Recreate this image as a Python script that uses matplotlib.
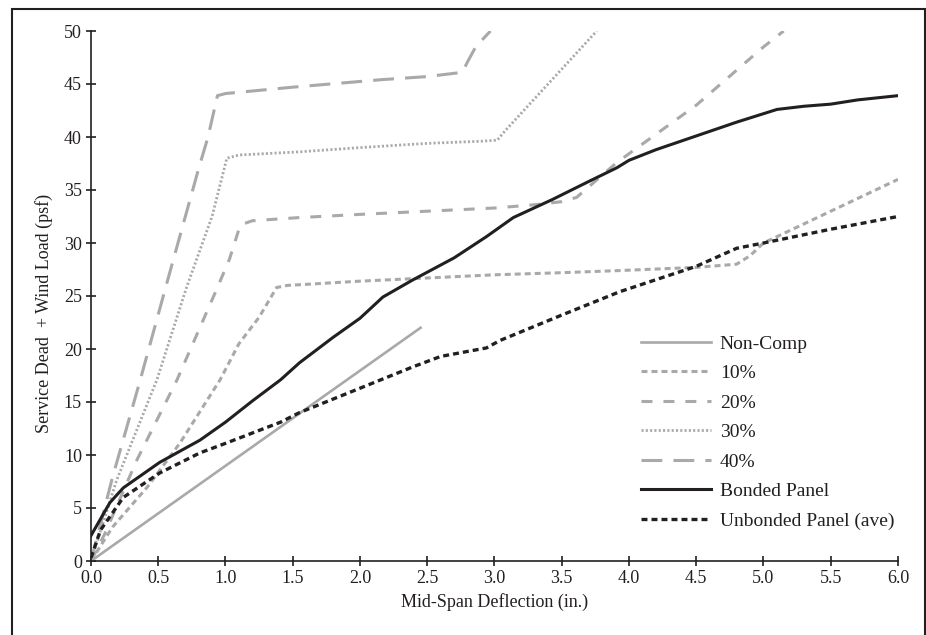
import matplotlib
matplotlib.use("Agg")
import matplotlib.pyplot as plt
from matplotlib.patches import Rectangle

# values
noncomp_x = [0.0, 2.45]
noncomp_y = [0.0, 22.0]

p10_x = [0.0, 0.16, 0.42, 0.66, 0.96, 1.1, 1.25, 1.38, 1.46, 1.6, 2.0, 2.5, 3.0, 3.5, 3.93, 4.5, 4.8, 4.9, 5.0, 5.5, 6.0]
p10_y = [0.0, 3.2, 7.0, 11.1, 17.1, 20.5, 23.0, 25.8, 26.0, 26.1, 26.4, 26.7, 27.0, 27.2, 27.4, 27.7, 28.0, 28.8, 30.0, 33.0, 36.0]

p20_x = [0.0, 0.1, 0.34, 0.64, 0.94, 1.03, 1.08, 1.11, 1.2, 1.55, 2.0, 2.5, 3.0, 3.29, 3.5, 3.61, 3.91, 4.5, 5.0, 5.15]
p20_y = [0.0, 2.5, 9.5, 17.1, 25.8, 28.5, 30.5, 31.7, 32.1, 32.4, 32.7, 33.0, 33.3, 33.6, 33.9, 34.3, 37.6, 43.0, 48.5, 50.0]

p30_x = [0.0, 0.19, 0.49, 0.71, 0.9, 0.97, 1.01, 1.1, 1.55, 2.0, 2.5, 2.9, 3.02, 3.08, 3.76]
p30_y = [0.0, 7.6, 17.1, 25.8, 32.5, 36.0, 38.0, 38.3, 38.6, 39.0, 39.4, 39.6, 39.7, 40.6, 50.0]

p40_x = [0.0, 0.16, 0.36, 0.57, 0.8, 0.87, 0.94, 1.0, 1.5, 2.15, 2.5, 2.76, 2.8, 2.86, 2.97]
p40_y = [0.0, 7.9, 16.8, 26.5, 37.0, 40.0, 43.9, 44.1, 44.7, 45.4, 45.7, 46.1, 47.1, 48.5, 50.0]

bonded_x = [0.0, 0.14, 0.24, 0.51, 0.81, 1.0, 1.2, 1.41, 1.55, 1.8, 2.0, 2.17, 2.39, 2.7, 2.94, 3.14, 3.43, 3.7, 3.91, 4.0, 4.2, 4.5, 4.8, 5.0, 5.1, 5.3, 5.5, 5.7, 6.0]
bonded_y = [2.4, 5.5, 6.9, 9.3, 11.4, 13.1, 15.1, 17.1, 18.7, 21.1, 22.9, 24.9, 26.5, 28.6, 30.6, 32.4, 34.1, 35.8, 37.1, 37.8, 38.8, 40.1, 41.4, 42.2, 42.6, 42.9, 43.1, 43.5, 43.9]

unbonded_x = [0.0, 0.07, 0.24, 0.51, 0.81, 1.0, 1.41, 1.55, 2.0, 2.39, 2.6, 2.94, 3.04, 3.5, 3.93, 4.5, 4.8, 5.0, 5.5, 6.0]
unbonded_y = [0.3, 2.9, 6.0, 8.3, 10.2, 11.1, 13.1, 14.0, 16.3, 18.3, 19.3, 20.1, 20.8, 23.2, 25.4, 27.8, 29.5, 30.0, 31.3, 32.5]

x_ticks = [0.0, 0.5, 1.0, 1.5, 2.0, 2.5, 3.0, 3.5, 4.0, 4.5, 5.0, 5.5, 6.0]
y_ticks = [0, 5, 10, 15, 20, 25, 30, 35, 40, 45, 50]

plt.rcParams["font.family"] = ["Liberation Serif", "DejaVu Serif"]
plt.rcParams["lines.scale_dashes"] = False

gray = "#a9a9ab"
dark = "#231f20"

fig = plt.figure(figsize=(9.26, 6.35), dpi=100)
ax = fig.add_axes([91 / 926, 74 / 635, 807 / 926, 530 / 635])

ax.plot(noncomp_x, noncomp_y, color=gray, lw=1.9, label="Non-Comp")
ax.plot(p10_x, p10_y, color=gray, lw=2.2, dashes=(4.3, 2.9), label="10%")
ax.plot(p20_x, p20_y, color=gray, lw=2.2, dashes=(7.9, 7.9), label="20%")
ax.plot(p30_x, p30_y, color=gray, lw=2.0, dashes=(1.5, 1.6), label="30%")
ax.plot(p40_x, p40_y, color=gray, lw=2.2, dashes=(15, 8), label="40%")
ax.plot(bonded_x, bonded_y, color=dark, lw=2.2, label="Bonded Panel")
ax.plot(unbonded_x, unbonded_y, color=dark, lw=2.4, dashes=(4.3, 2.9), label="Unbonded Panel (ave)")

ax.set_xlim(0, 6)
ax.set_ylim(0, 50)
ax.set_xticks(x_ticks)
ax.set_xticklabels(["%.1f" % v for v in x_ticks])
ax.set_yticks(y_ticks)

for s in ["top", "right"]:
    ax.spines[s].set_visible(False)
for s in ["left", "bottom"]:
    ax.spines[s].set_linewidth(1.2)
    ax.spines[s].set_color(dark)

ax.tick_params(direction="inout", length=7, width=1.2, colors=dark, labelsize=13, pad=3)
ax.set_xlabel("Mid-Span Deflection (in.)", fontsize=13, color=dark, labelpad=4)
ax.set_ylabel("Service Dead  + Wind Load (psf)", fontsize=13, color=dark)
ax.yaxis.set_label_coords(-0.047, 0.468)

leg = ax.legend(loc="upper left", bbox_to_anchor=(0.6815, 0.426), frameon=False,
                fontsize=14, handlelength=3.6, handletextpad=0.45, labelspacing=0.61,
                borderpad=0, borderaxespad=0)
for t in leg.get_texts():
    t.set_color(dark)

# outer frame around the figure
fig.patches.append(Rectangle((12 / 926, -0.05), 913 / 926, 1.05 - 9 / 635,
                             transform=fig.transFigure, fill=False,
                             edgecolor=dark, lw=1.5))

fig.savefig("out.png", dpi=100)
